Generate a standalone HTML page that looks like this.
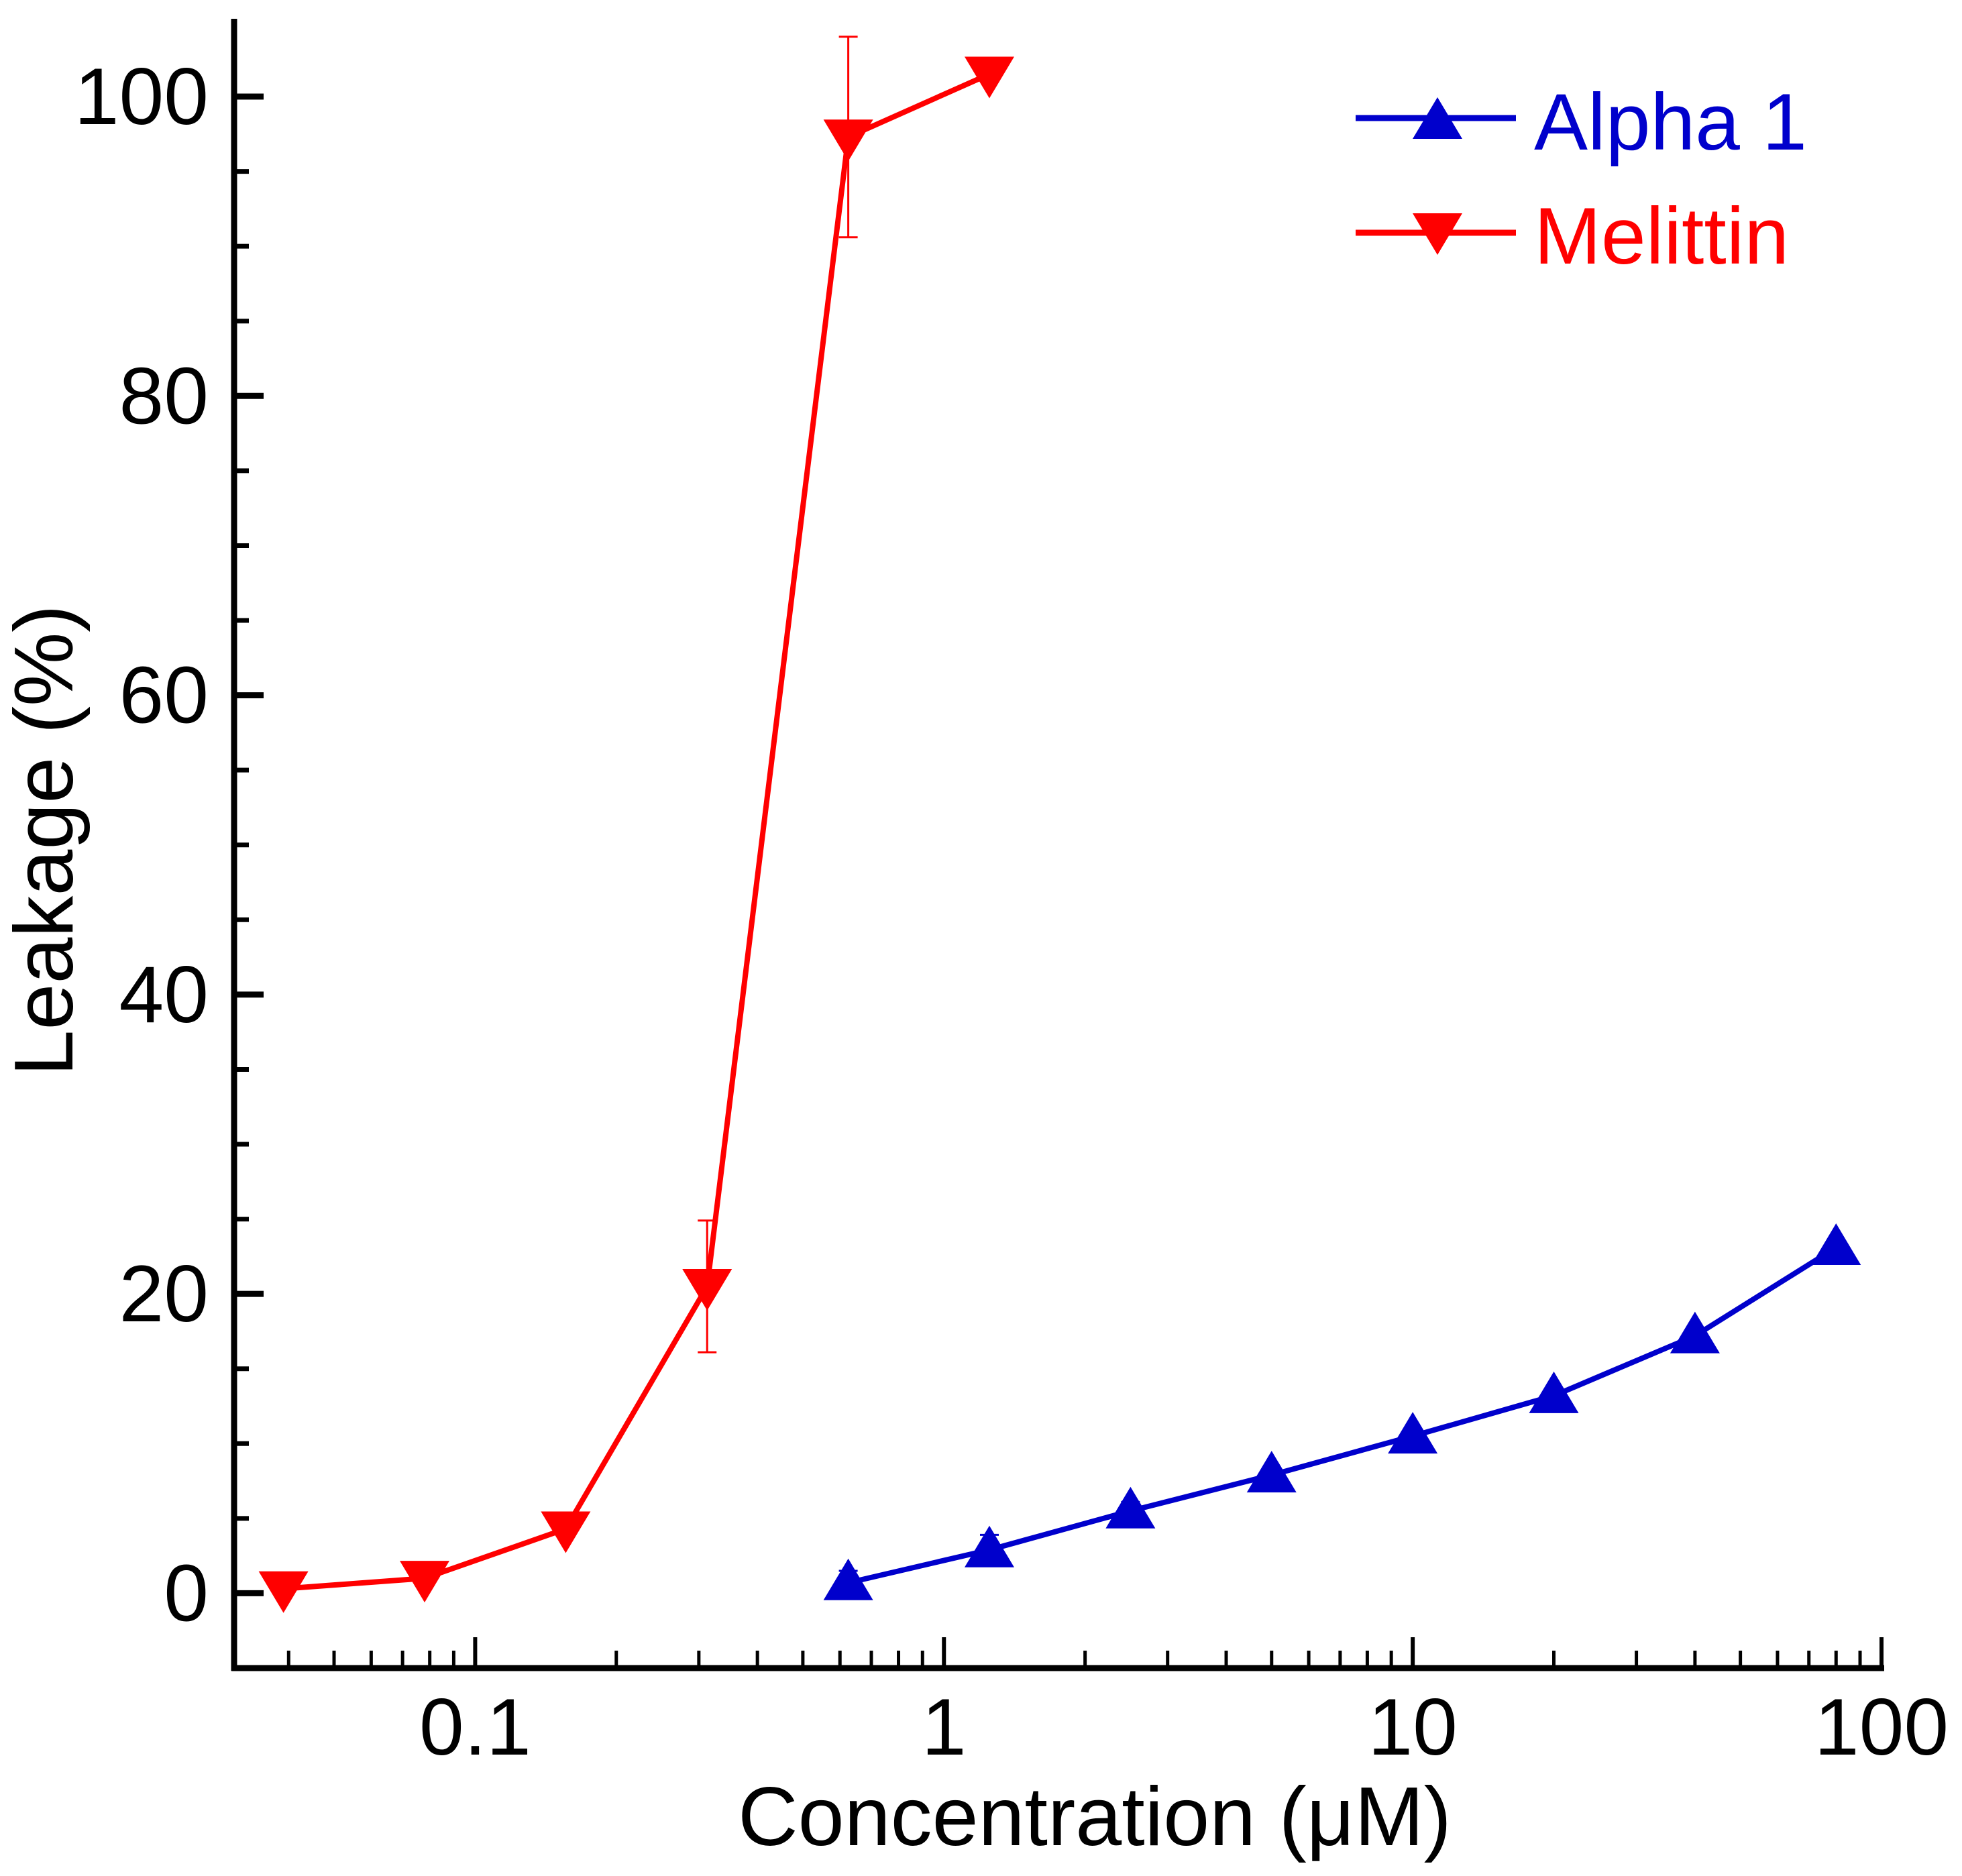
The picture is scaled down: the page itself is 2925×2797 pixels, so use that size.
<!DOCTYPE html>
<html><head><meta charset="utf-8"><style>
html,body{margin:0;padding:0;background:#fff;}
svg{display:block;font-family:"Liberation Sans",Arial,sans-serif;}
</style></head><body>
<svg id="chart" width="2925" height="2797" viewBox="0 0 2925 2797">
<g id="axes"></g>
<g id="series"></g>
<text x="75" y="1253" font-size="124" text-anchor="middle" transform="rotate(-90 75 1253)" dominant-baseline="middle">Leakage (%)</text>
<text x="1632" y="2751" font-size="124" text-anchor="middle">Concentration (μM)</text>
<g>
<g>
<line x1="2021" y1="176" x2="2260" y2="176" stroke="#0000cc" stroke-width="9"/>
<polygon points="2143,145 2180,207 2106,207" fill="#0000cc"/>
<text x="2287" y="223" font-size="120" fill="#0000cc">Alpha 1</text>
</g>
<g>
<line x1="2021" y1="347" x2="2260" y2="347" stroke="#ff0000" stroke-width="9"/>
<polygon points="2106,318 2180,318 2143,380" fill="#ff0000"/>
<text x="2287" y="393" font-size="120" fill="#ff0000">Melittin</text>
</g>
</g>
</svg>
<script>
const melX=[0.039,0.078,0.156,0.3125,0.625,1.25];
const melY=[0.3,1.0,4.3,20.5,97.3,101.5];
const melErr=[0,0,0,4.4,6.7,0];
const alpX=[0.625,1.25,2.5,5,10,20,40,80];
const alpY=[0.7,2.9,5.5,7.9,10.5,13.2,17.2,23.1];
const alpErr=[0.8,1.0,0.6,0.5,0.4,0.4,0.4,0.4];
const yTicks=[0,20,40,60,80,100];
const xTicks=[0.1,1,10,100];
const xTickLabels=["0.1","1","10","100"];

const NS="http://www.w3.org/2000/svg";
const X0=345,X1=2805,XMIN=Math.log10(0.0302),XMAX=2;
const Y0=2487,Y1=28,YMIN=-5,YMAX=105.2;
function sx(v){return X0+(Math.log10(v)-XMIN)/(XMAX-XMIN)*(X1-X0);}
function sy(v){return Y0-(v-YMIN)/(YMAX-YMIN)*(Y0-Y1);}
function mk(tag,attrs,parent){const e=document.createElementNS(NS,tag);for(const k in attrs)e.setAttribute(k,attrs[k]);parent.appendChild(e);return e;}
const axes=document.getElementById('axes');
const series=document.getElementById('series');

let l=mk('line',{x1:349,y1:Y1,x2:349,y2:Y0+4,stroke:'#000','stroke-width':9},axes);


l=mk('line',{x1:345,y1:Y0,x2:X1+4,y2:Y0,stroke:'#000','stroke-width':9},axes);



for(let v=0;v<=100;v+=5){
  const major=v%20===0;
  const t=mk('line',{x1:349,y1:sy(v),x2:349+(major?44:22),y2:sy(v),stroke:'#000','stroke-width':major?9:7},axes);
  
  
}
yTicks.forEach(v=>{
  const t=mk('text',{x:311,y:sy(v),'font-size':120,'text-anchor':'end','dominant-baseline':'central'},axes);
  t.textContent=String(v);
  
  
});
for(let d=-2;d<=1;d++){
  for(let m=1;m<=9;m++){
    const v=m*Math.pow(10,d);
    if(v<0.035)continue;
    const major=m===1;
    const t=mk('line',{x1:sx(v),y1:Y0,x2:sx(v),y2:Y0-(major?46:26),stroke:'#000','stroke-width':major?6:5},axes);
    
    
  }
}
{const t=mk('line',{x1:sx(100),y1:Y0,x2:sx(100),y2:Y0-46,stroke:'#000','stroke-width':6},axes);

}
xTicks.forEach((v,i)=>{
  const t=mk('text',{x:sx(v),y:2616,'font-size':120,'text-anchor':'middle'},axes);
  t.textContent=xTickLabels[i];
  
  
});

function drawSeries(xs,ys,errs,color,up,name){
  const g=mk('g',{},series);
  
  
  xs.forEach((x,i)=>{
    if(errs[i]>0){
      const cx=sx(x),t=sy(ys[i]+errs[i]),b=sy(ys[i]-errs[i]);
      const e=mk('path',{d:`M${cx},${t}V${b}M${cx-14},${t}H${cx+14}M${cx-14},${b}H${cx+14}`,stroke:color,'stroke-width':3,fill:'none'},g);
      
      
    }
  });
  const p=mk('polyline',{points:xs.map((x,i)=>sx(x)+','+sy(ys[i])).join(' '),stroke:color,'stroke-width':8,fill:'none','stroke-linejoin':'round'},g);
  
  
  xs.forEach((x,i)=>{
    const cx=sx(x),cy=sy(ys[i]);
    const pts=up?`${cx},${cy-36} ${cx+37},${cy+26} ${cx-37},${cy+26}`:`${cx-37},${cy-26} ${cx+37},${cy-26} ${cx},${cy+36}`;
    const m=mk('polygon',{points:pts,fill:color},g);
    
    
  });
}
drawSeries(melX,melY,melErr,'#ff0000',false,'melittin');
drawSeries(alpX,alpY,alpErr,'#0000cc',true,'alpha1');
</script>
</body></html>
